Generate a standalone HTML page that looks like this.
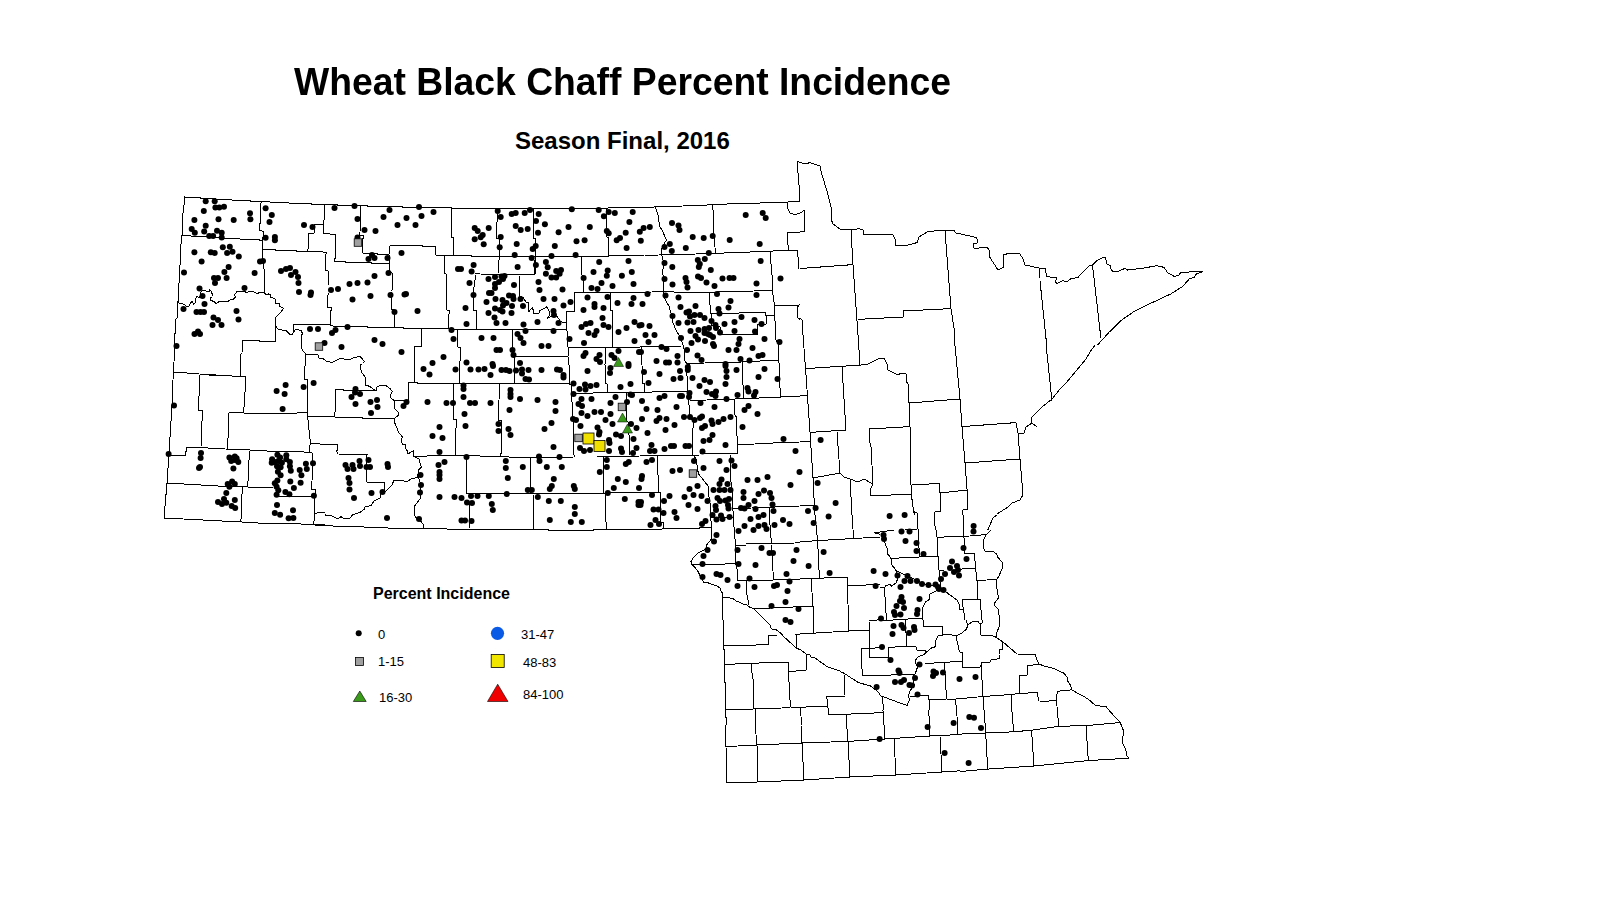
<!DOCTYPE html>
<html><head><meta charset="utf-8">
<style>
html,body{margin:0;padding:0;background:#fff;width:1612px;height:900px;overflow:hidden}
body{position:relative;font-family:"Liberation Sans",sans-serif}
.t{position:absolute;font-weight:bold;color:#000;white-space:nowrap;line-height:1}
.l{position:absolute;color:#000;white-space:nowrap;line-height:1;font-size:13px}
svg{position:absolute;left:0;top:0}
</style></head><body>
<div class="t" id="title" style="left:294px;top:63px;font-size:37.3px;transform:scaleY(1.035);transform-origin:0 0">Wheat Black Chaff Percent Incidence</div>
<div class="t" id="sub" style="left:515px;top:129px;font-size:24px">Season Final, 2016</div>
<div class="t" id="leg" style="left:373px;top:586px;font-size:16px">Percent Incidence</div>
<div class="l" id="l0" style="left:378px;top:628px">0</div>
<div class="l" id="l1" style="left:378px;top:655px">1-15</div>
<div class="l" id="l2" style="left:379px;top:691px">16-30</div>
<div class="l" id="l3" style="left:521px;top:628px">31-47</div>
<div class="l" id="l4" style="left:523px;top:656px">48-83</div>
<div class="l" id="l5" style="left:523px;top:688px">84-100</div>
<svg width="1612" height="900" viewBox="0 0 1612 900">
<defs><mask id="m0" maskUnits="userSpaceOnUse" x="0" y="0" width="1612" height="900"><rect x="160" y="185" width="320" height="180" fill="#fff"/><rect x="440" y="200" width="100" height="60" fill="#000"/><rect x="175" y="190" width="120" height="70" fill="#000"/><rect x="170" y="285" width="160" height="90" fill="#000"/><rect x="295" y="195" width="160" height="90" fill="#000"/><rect x="330" y="280" width="160" height="90" fill="#000"/></mask><mask id="m1" maskUnits="userSpaceOnUse" x="0" y="0" width="1612" height="900"><rect x="440" y="200" width="100" height="60" fill="#fff"/></mask><mask id="m2" maskUnits="userSpaceOnUse" x="0" y="0" width="1612" height="900"><rect x="175" y="190" width="120" height="70" fill="#fff"/></mask><mask id="m3" maskUnits="userSpaceOnUse" x="0" y="0" width="1612" height="900"><rect x="170" y="285" width="160" height="90" fill="#fff"/></mask><mask id="m4" maskUnits="userSpaceOnUse" x="0" y="0" width="1612" height="900"><rect x="295" y="195" width="160" height="90" fill="#fff"/><rect x="440" y="200" width="100" height="60" fill="#000"/></mask><mask id="m5" maskUnits="userSpaceOnUse" x="0" y="0" width="1612" height="900"><rect x="330" y="280" width="160" height="90" fill="#fff"/><rect x="295" y="195" width="160" height="90" fill="#000"/></mask><mask id="m6" maskUnits="userSpaceOnUse" x="0" y="0" width="1612" height="900"><rect x="480" y="185" width="320" height="180" fill="#fff"/><rect x="440" y="200" width="100" height="60" fill="#000"/><rect x="330" y="280" width="160" height="90" fill="#000"/><rect x="640" y="185" width="160" height="90" fill="#000"/><rect x="480" y="275" width="160" height="90" fill="#000"/><rect x="535" y="195" width="110" height="85" fill="#000"/><rect x="640" y="275" width="160" height="90" fill="#000"/></mask><mask id="m7" maskUnits="userSpaceOnUse" x="0" y="0" width="1612" height="900"><rect x="640" y="185" width="160" height="90" fill="#fff"/><rect x="535" y="195" width="110" height="85" fill="#000"/></mask><mask id="m8" maskUnits="userSpaceOnUse" x="0" y="0" width="1612" height="900"><rect x="480" y="275" width="160" height="90" fill="#fff"/><rect x="330" y="280" width="160" height="90" fill="#000"/><rect x="535" y="195" width="110" height="85" fill="#000"/></mask><mask id="m9" maskUnits="userSpaceOnUse" x="0" y="0" width="1612" height="900"><rect x="535" y="195" width="110" height="85" fill="#fff"/><rect x="440" y="200" width="100" height="60" fill="#000"/></mask><mask id="m10" maskUnits="userSpaceOnUse" x="0" y="0" width="1612" height="900"><rect x="640" y="275" width="160" height="90" fill="#fff"/><rect x="535" y="195" width="110" height="85" fill="#000"/></mask><mask id="m11" maskUnits="userSpaceOnUse" x="0" y="0" width="1612" height="900"><rect x="790" y="155" width="320" height="180" fill="#fff"/><rect x="480" y="185" width="320" height="180" fill="#000"/><rect x="640" y="185" width="160" height="90" fill="#000"/><rect x="640" y="275" width="160" height="90" fill="#000"/><rect x="1040" y="245" width="180" height="100" fill="#000"/></mask><mask id="m12" maskUnits="userSpaceOnUse" x="0" y="0" width="1612" height="900"><rect x="1040" y="245" width="180" height="100" fill="#fff"/></mask><mask id="m13" maskUnits="userSpaceOnUse" x="0" y="0" width="1612" height="900"><rect x="160" y="365" width="320" height="180" fill="#fff"/><rect x="170" y="285" width="160" height="90" fill="#000"/><rect x="330" y="280" width="160" height="90" fill="#000"/><rect x="225" y="445" width="100" height="80" fill="#000"/><rect x="320" y="365" width="160" height="90" fill="#000"/><rect x="320" y="455" width="160" height="90" fill="#000"/></mask><mask id="m14" maskUnits="userSpaceOnUse" x="0" y="0" width="1612" height="900"><rect x="225" y="445" width="100" height="80" fill="#fff"/></mask><mask id="m15" maskUnits="userSpaceOnUse" x="0" y="0" width="1612" height="900"><rect x="320" y="365" width="160" height="90" fill="#fff"/><rect x="170" y="285" width="160" height="90" fill="#000"/><rect x="330" y="280" width="160" height="90" fill="#000"/><rect x="225" y="445" width="100" height="80" fill="#000"/></mask><mask id="m16" maskUnits="userSpaceOnUse" x="0" y="0" width="1612" height="900"><rect x="320" y="455" width="160" height="90" fill="#fff"/><rect x="225" y="445" width="100" height="80" fill="#000"/></mask><mask id="m17" maskUnits="userSpaceOnUse" x="0" y="0" width="1612" height="900"><rect x="480" y="365" width="160" height="90" fill="#fff"/><rect x="330" y="280" width="160" height="90" fill="#000"/></mask><mask id="m18" maskUnits="userSpaceOnUse" x="0" y="0" width="1612" height="900"><rect x="640" y="365" width="160" height="90" fill="#fff"/></mask><mask id="m19" maskUnits="userSpaceOnUse" x="0" y="0" width="1612" height="900"><rect x="480" y="455" width="160" height="90" fill="#fff"/></mask><mask id="m20" maskUnits="userSpaceOnUse" x="0" y="0" width="1612" height="900"><rect x="640" y="455" width="160" height="90" fill="#fff"/></mask><mask id="m21" maskUnits="userSpaceOnUse" x="0" y="0" width="1612" height="900"><rect x="800" y="335" width="320" height="180" fill="#fff"/><rect x="1040" y="245" width="180" height="100" fill="#000"/></mask><mask id="m22" maskUnits="userSpaceOnUse" x="0" y="0" width="1612" height="900"><rect x="640" y="545" width="160" height="90" fill="#fff"/></mask><mask id="m23" maskUnits="userSpaceOnUse" x="0" y="0" width="1612" height="900"><rect x="800" y="515" width="320" height="180" fill="#fff"/><rect x="880" y="530" width="160" height="90" fill="#000"/><rect x="880" y="620" width="160" height="90" fill="#000"/><rect x="680" y="635" width="160" height="90" fill="#000"/><rect x="960" y="640" width="180" height="140" fill="#000"/></mask><mask id="m24" maskUnits="userSpaceOnUse" x="0" y="0" width="1612" height="900"><rect x="880" y="530" width="160" height="90" fill="#fff"/></mask><mask id="m25" maskUnits="userSpaceOnUse" x="0" y="0" width="1612" height="900"><rect x="880" y="620" width="160" height="90" fill="#fff"/></mask><mask id="m26" maskUnits="userSpaceOnUse" x="0" y="0" width="1612" height="900"><rect x="700" y="695" width="320" height="180" fill="#fff"/><rect x="880" y="620" width="160" height="90" fill="#000"/><rect x="680" y="635" width="160" height="90" fill="#000"/><rect x="960" y="640" width="180" height="140" fill="#000"/></mask><mask id="m27" maskUnits="userSpaceOnUse" x="0" y="0" width="1612" height="900"><rect x="680" y="635" width="160" height="90" fill="#fff"/></mask><mask id="m28" maskUnits="userSpaceOnUse" x="0" y="0" width="1612" height="900"><rect x="960" y="640" width="180" height="140" fill="#fff"/><rect x="880" y="620" width="160" height="90" fill="#000"/></mask></defs>
<g fill="none" stroke="#000" stroke-width="1" stroke-linejoin="round" shape-rendering="crispEdges">
<path mask="url(#m0)" d="M184.4,196.6 261,202 324,204.6 360,205.6 451,208 480,208.6M184.4,196.6 181.6,236 178,301 173.6,365M181.6,236 262,240M261,202 259.6,227 262,231 263,249 264,269 265,293M263,249.4 326,252.6M326,252.6 325.6,270 328,271 327,307 331,309 330.6,325M308,250 309,233 315,233 315,225 323,224M324,204.6 323,233 335,235 335,261 389,263M360,205.6 360.6,236 362,241 362.4,253 389,255M390,246 436,246 436,255 480,256M389,255 390,246M390,246 389,273 392,289 391.6,305 394.4,313 394.4,327M451,208 453.6,237 453.6,255M444,256 447,273 448,311 449,328M480,273 475,274 476,311 477,329M294,324 331,325 394.4,327.4 449,328 480,329M421,329 420,346 415,346.6 414,365M458,329 460,347 460,365M178,301 179,303 184,305 191,305 193,301 197,301 198,297 202,293 206,290 210,291 211,296 213,300 218,303 226,301 232,300 236,297 236,293 240,291 248,291 256,292 262,294 270,295 276,301 280,305 282,309 278,315 276,321 276,327 282,331 292,334 298,332 302,335 301,343 304,351 312,355 320,357 332,362 344,359 358,357 364,361 360,365M275.6,327 275.6,341 242,341 241,365M294,324 293.6,329M305,354 305.6,365"/>
<path mask="url(#m1)" d="M440,207.3 451,207.3 451.3,208.3 540,208.3M451.3,208.3 451.7,237.3 453.3,237.7 453.3,255.3M440,255.3 471.3,255.3 471.7,256.3 540,256.3M444.3,255.7 444.3,260M497.3,208.7 497.3,222 496.5,222.7 496.5,238.3 499.3,238.7 499.3,260M533.3,208.3 533.3,238.3 535.3,238.7 535.3,260"/>
<path mask="url(#m2)" d="M184.3,196.2 184.3,197.4 199.9,197.4 200.3,198.2 215,198.2 215.4,199.2 231.8,199.3 232.5,200.5 250,200.5 250.4,201.7 261.3,201.7 269.9,201.7 270.3,202.4 288.9,202.4 289.3,203.6 295,203.6M184.3,196.6 184.3,204.8 183.2,205.6 182.8,221.1 182.4,221.9 182.4,235.1 181.2,236.7 180.8,252.2 180.1,253.4 180.1,260M182.4,235.1 190.6,235.1 191.3,236.5 207.7,236.5 224,238.2 239.5,238.2 240.3,239.4 259,239.4 259.8,240.5 262.1,240.5M261.3,201.7 260.5,205.6 260.1,223.4 259.4,224.2 259.4,230.4 263.3,231.2 262.9,239.8 262.5,260M262.5,249.5 275.3,249.5 276.1,250.7 295,250.7"/>
<path mask="url(#m3)" d="M178.5,285 178,301 177.5,302 177,318 176,319 175.5,333 174.5,334 174,362 173.5,363 173.5,375M178,301.5 179.5,303.5 182,303.5 184.5,304.5 186.5,306.5 189,306 190.5,302.5 192.5,301.5 193.5,305 195,303 195.5,298.5 197,296.5 199,297.5 200,296 201,292 203,290.5 206,291 209,291.5 209.5,289.5 211.5,291.5 211,293 213,294.5 212.5,296.5 210.5,298 211,300.5 214,301.5 216,303.5 218.5,302 222,301 225,302 228.5,301 231,299.5 233,299.5 235.5,297 234.5,295 237,291.5 240,291 245,291 246,292.5 250,291.5 254,292 257,293.5 260,292.5 264,293 266,294.5 268.5,294 270.5,295 270,297 273,298 275,299 276,303.5 279,303.5 280,306.5 283.5,308.5 282,310.5 280,313 277,316 275.5,317.5 275.5,326 278,329 282,330 286.5,331 289.5,334 292.5,334 295,330 298,329.5 301.5,331 302.5,334 301,336 302,341 301.5,348 303.5,351.5 306,354 314,354 318,355 319,358 323,358.5 326,361 330,362M264.5,285 264.5,292.5M275.5,317.5 275.5,341.5 260,341.5 259.5,340.5 242.5,340.5 242,353 241,354 240.5,375M294,324.5 330,325M294,324.5 293.5,333M306,354 305,366 304.5,375M173.5,372.5 184,372.8 199,374 216,374.5M329,293 327.5,296 327.5,307.5 330,307.5"/>
<path mask="url(#m4)" d="M295,203.5 311.5,203.5 312,204.5 337.5,204.5 338,205.5 367.5,205.5 368,206.5 402.5,206.5 403,207.5 450.5,207.5 451,208.5 455,208.5M324.5,204.5 324,221 323,222 323.5,233.5 335.5,234.5 335.5,258 334.5,259 334.5,261.5 345,261.5 345.5,262.5 371.5,262.5 372,263.5 389,263.5M323,224.2 314.5,224.5 314.5,233 308.5,233.5 308,250 307,251M295,250.5 298,251.5 307,251.5 323,252 326.5,252.5 326,254 325.5,270 328,270.5 328.5,285M360.5,205.5 360,233 359,235 363.5,235.5 363.5,238.5 362,239 362.5,253 377.5,253.5 378,254.5 389,254.5M389,254.5 389.5,247 390.5,245.5 422.5,245.5 423,246.5 435.5,246.5 435.5,255 453.5,255.5M389,254.5 389,271 392,272.5 392.5,285M451,208.5 451.5,237 453,237.5 453.5,255.5M444.5,255.5 444.5,273 446,274 446.5,285"/>
<path mask="url(#m5)" d="M330,307.5 331.5,307.5 331.5,310.5 330.5,311 330.5,325 334,326.5 367.5,326.5 368,327.5 394,327.5 403.5,327.5 404,328.5 448,328.5 457,329.5 490,329.5M392.5,280 392.5,289.5 391,291 391.5,309.5 394,310 394.5,327.5M446.5,280 446.5,310 449.5,310.5 449.5,313.5 448.5,314.5 448.5,328.5M474,280 474.5,286.5 473.5,288 473.5,310.5 476.5,311 476.5,329.5M421.5,328.5 421.5,346.5 414.5,346.5 414.5,370M457,329.5 457.5,347 460.5,347.5 460.5,360.5 459.5,361.5 459.5,370M330,363 334,361.5 337,360 340,358.5 343,358.5 346,360 351,359 354,357.5 360,356.5 362,358.5 364.5,361.5 362.5,363.5 360,365.5 360.5,370"/>
<path mask="url(#m6)" d="M480,208.6 608,207.6 640,207.4M606.4,208 606,237 608,238 608.6,255.4M533,208.6 534.4,239 535,274M496.4,208.6 497.6,223 498.4,251 499,273M480,256 499,256M480,274 519,274.6 535,274M535,256 608,255.4 661,255M581,256.6 582,273 583.6,292M575,293 663,292 710,293 772,290M519,274.6 520,297 525,300 528,305 530,311 534,314 540,311 544,308 548,310 549,317 552,315 557,319 560,323 566,323M480,329 566,328.6M512,329.4 513,349 514,365M514,356.6 568,356.6M575,293 574,311 567,311.4 566,323 568,347 569,365M610.4,293 612,311 612,347M568,347 612,347 684,346M605.6,348 605,365M641,347 643,365M663.6,255 663,261 662,269 664,277 663,285 664,293 666,299 670,313 673,323 678,333 682,341 684,349 685,357 686,365M772,290 775,315 778,365M774,306 800,305M710,293 712,314 764,312 766,323 757,325 757,334 720,335 719,329 712,325 712,314M766,315 775,315M686,363 778,360.6M798,250 799,269M770,252 772,290M798,305 797,315 800,319M716,253 770,252 798,250"/>
<path mask="url(#m7)" d="M640,207.5 697,205.5 727,204 753,203.2 777,202.5 799,201.5M799,185 799,201.5M787,203 788,209 790,213 794,214.5 800,213.5M655.5,207.5 658,215 659.5,226 662,230 666.5,240 662.5,246 661,253 662.5,257 663.5,263 662.5,275M712.5,205.5 713.5,214 714,235 715.5,253.5M640,255.5 696,254 724,253 763,251.5 783,250.5 797.5,250.5M770,251.8 772,275M787,232.5 800,232.5M787,232.5 788.5,250.5M797.5,250.5 799,269"/>
<path mask="url(#m8)" d="M519,275 519.5,296 523,297.5 526,302 528.5,302 529,311.5 531,309 532.5,307.5 534,313.5 539,313 540,310.5 544,308.5 546.5,307 548,309 550,313 549,316 547.5,318.5 552,316 557,316 560,321 561.5,322 566,322M480,329.5 512,329.5 566,329.5M512,329.5 512.5,356 514.5,356.5 514.5,365M514.5,356.5 568,356.5 569,365M566,322 566.5,311.5 574.5,311.5 574.5,292.5 583.5,292.5 610,292.5 640,292.5M583.5,275 583.5,292.5M566.5,311.5 566.5,329.5 567.5,332 567.5,347 612.5,347 640,347M610,292.5 610.5,310 612.5,310.5 612.5,347M568,347 568.5,356.5M605.5,347.5 605,365"/>
<path mask="url(#m9)" d="M535,208.2 607.7,208.2 608.2,207.3 645,207.3M606.3,208.7 606.8,237 608.7,237.5 608.7,256.4 610.1,255.4 645,255M535,256.4 608.7,256.4M535.5,238 535.5,274.3M581.3,256.9 581.3,274.3 583.2,275.7"/>
<path mask="url(#m10)" d="M663.5,275 664,281 663,285 663.5,291 664,297 667,303 669,306 671,313 672.5,318 673,323 676,330 680,337 683,345 684,349 684.5,354 685,361 687,364 690,365M640,292.5 663.5,291.5 694,293 710,292.8 722,291.5 754,291 772,290.5M772.5,275 773,295 774.5,306 775,321 776,340 778,343 778.5,360 779.5,365M774.5,305.5 800,305M709.5,293 710,305 711,314 711.5,325 720,326.5 720,329.5 719,331 720,335 757.5,334.5 758,324.5 766.5,324 766,315.5 774,315.5M711,314 728,313.5 750,312.5 765.5,312.5 766,315.5M640,346.5 682.5,346M641,347 642,365M686,363.5 742,362 778,360M742.5,362.5 742,365M800,304 797,308 797,317 800,319.5"/>
<path mask="url(#m11)" d="M797.6,161.4 799,201 798,202 790,202M797.6,161.4 805,164 810,162.6 814,164 820,166 822,175 827,191 832,211 831,219 833,224 840,229 851,230 859,228.6 863,230 864,234.6 871,235 876,234.6 893,235 895,239 896,246 908,245 917,242.6 919,237 927,232 937,230.6 954,230.6 956,233 976,237.4 978,240 977,243 973,244 974,248 979,248 987,247.4 990,251 989,256 998,270 1004,267 1003,255 1010,253 1020,254 1023,259 1025,265 1039,268 1045,269 1047,275 1057,277 1056,282 1066,281 1078,277.4 1084,271 1092,264 1103,258 1106,260 1108,266 1110,267M790,213 796,214 802,212 804,210 805,231 790,232M790,250 798,250.6 799,268.6 853,264.6M851,230 853,264.6 858,335M858,319.4 903,317 903,311 951,308.6M945,231 951,308.6 955,335M1039,268 1046,335M1092,264 1101,335M790,305 799,305 797,309 796,315 802,320 803,335M1106,333 1110,329"/>
<path mask="url(#m12)" d="M1040,268.4 1045,268.4 1046.7,276.3 1051.2,277.4 1056.7,277.4 1055.6,281.8 1056.7,283.5 1062.3,280.7 1066.8,281.8 1070.1,279.1 1078,277.4 1084.7,270.1 1089.1,265.7 1092.5,265.1 1096.9,260.6 1102.5,257.8 1105.3,257.3 1107,264 1110.9,265.7 1110.3,268.4 1113.1,271.8 1117,271.8 1124.9,268.4 1127.7,270.1 1136,269 1145,267.9 1156.1,265.7 1163.9,267.3 1167.8,272.9 1174,276.3 1178.5,275.7 1180.7,272.4 1193,271.8 1203,271.6M1203,271.6 1196.3,274 1194.1,277.4 1189.6,278.5 1182.9,286.3 1174,291.9 1170.6,294.1 1162.8,297.5 1156.1,300.8 1142.7,307 1134.9,310.9 1120.4,320.9 1109.2,332.1 1097.5,345M1092.5,265.1 1100.9,338.2M1040,280.7 1046.7,345"/>
<path mask="url(#m13)" d="M173.6,365 172,405 169,454 167,483 164,518M173.6,372.6 200,374.6 246,376.6M241,365 240.4,376M200,374.6 198.4,410 202.4,411 201,447M246,376.6 243.6,413 280,414 308,412.4M229,412.6 243.6,413M229,412.6 227.6,449M305,365 304,379 308,380 307.6,416 334,417 395,418M309.6,443 337,444.6 337,454 368,454.6 366,482 384,483 385,492M307.6,416 310.4,443 310,453 313,453 312,489 315,497 314,525M167,455 185,456 187,447 228,449 249,451 288,452 313,453M249,451 247,486 242,487.4 241,522M167,483 242,487.4 278,488 280,497 315,497M164,518 241,522 314,525 424,528 480,529M359,365 365,377 366,385 374,390 380,386 387,386 392,390 391,397 395,407 398,413 395,418 396,423 400,433 402,437 400,441 403,444 405,449 413,453 415,457 420,461 421,467 418,475 420,483 418,495 415,505 416,521 424,528M418,477 411,479 406,482 399,480 392,483 386,491 380,497 374,503 366,507 360,513 352,517 344,518 336,519 326,515 316,514 315,514M335,389.4 374,390M335,389.4 334,417M395,401 408,400.6 408,382.6 415,382 415,365M408,382.6 454,383.4 480,383M460,365 459.6,383M454,383.4 456,455M415,456 480,456.6M467,457 467,493 480,493M471,501 469,529"/>
<path mask="url(#m14)" d="M225,449 241.4,449.4 262.3,450.8 284.1,451.7 309.4,452.1 313,453.4 311.7,489.4 315.7,489.9 314.8,496.6 293.4,497 279.2,496.4M248.1,487.2 273,487.7M249.9,450.8 249,460.1 248.1,480.6 247.2,486.3 225,486.8M242.3,486.8 241,519.7 240.6,521.9M309.4,445 309.4,452.1M227.7,445 227.7,449M314.8,497 313.9,525M225,521.4 240.6,521.9 261,523.2 282.8,523.7 306.8,524.1 325,524.6M314.8,514.3 317.4,512.6 325,512.6"/>
<path mask="url(#m15)" d="M359.5,365 360,367 362,373 365.5,377.5 365.5,385 370,386.5 373,389 375,390.5 376.5,390 377,387 380,385.5 386,385.5 390,388.5 392.5,391.5 390.5,394.5 391,398 394,400.5 394,408 398,412 398,415.5 395,418 394,421 396.5,427 399,433 402.5,437 401,441 402.5,444 405.5,445 405,448 407.5,451 408,454 411,452 414,450.5 413.5,455M335.5,389 343,389 343.5,390.5 373,390.5 374.5,390M335.5,389 335.5,411.5 334.5,412.5 334,417 320,416.5M334,417 362,417.5 362.5,418.5 394,418.5M394,400.5 408,400.5 408.5,382.5 417,382.5 418,383.5 459,383.5 480,383.5M414.5,365 414.5,382.5M459.5,365 459.5,383.5M453.5,383.5 453.5,419.5 456.5,420 456.5,427.5 455.5,428.5 455.5,455M320,444.5 337.5,444.5 337.5,450 336.5,451 338,454 368,454.5"/>
<path mask="url(#m16)" d="M367,455 366.5,482 384.5,482 385,492M320,514 324,512.5 326,516 331,515.5 338,519 341,516.5 344,519 350,518 353,514.5 360,512.5 364,509.5 365,507 371,505.5 374,501 380,498 380,494.5 385,492 392,485 394,480 399,480.5 404,481 408,481 412,478.5 417.5,477.5 418.5,470 421.5,467 419.5,462 420,459.5 414,456.5 413.5,455M414,456 427,456 455,455.5 480,456M418.5,477 420,482 420,499 414.5,506 415,516 417,519 421.5,522 423.5,525 423.5,528M467,458 466.5,470 466.5,493.5 480,493.5M469.5,504 469,529M320,525.5 333,526 364,527 400,528.5 447,529 480,529.5"/>
<path mask="url(#m17)" d="M480,384 514,383.8 569.5,384 571,385 571.5,393.5 573,419 573.5,423 574,455M514.5,365 514,384M569.5,365 569.5,384M499.5,384.5 499,400 498.2,400.5 498.5,420.5 501.5,420.5 501.5,452 500.5,455M571.5,393.5 593,393.3 593,392 607.5,392 640,392M605.5,365 605.5,383.5 607,383.5 607.5,392M626,393 626.5,404 627,421 628,422 629,435 629,455"/>
<path mask="url(#m18)" d="M642,365 642.5,383 644.5,384 644.5,392M640,392.2 664,391.8 687,391.5M687,365 686.5,374 688,380 687.5,390 689,398 688.5,403 690,408 689.5,415 694,423 692.5,430 692,437 692.5,447 693,455M690,400.5 707,400 735,399 764,397.8 781,397 800,396.5M742,365 743,385 743.5,398M779.5,365 780,388 781,397M734,399.5 735,415 736.5,417 737,436 738,444 737.5,453.5 730,453.5 700,454M738,444.5 755,444 782,442.5 800,442"/>
<path mask="url(#m19)" d="M480,457 500,456.8 530,457.5 574,457 597,457 640,456M500.5,455 500.5,456.8M574.5,455 574.5,457M530.5,457.5 531,493M480,493.3 533,493.5 605,493 640,492.5M603.5,456.5 604,493M533,493.5 533.5,529.5M605.5,493.5 605.5,521.5 606.5,522.5 606.5,529.5M480,529.5 533.5,529.5 548,529.5 548.5,530.5 593.5,530.5 594,529.5 640,529.5"/>
<path mask="url(#m20)" d="M640,456 664,455.5 699,455.5M657.5,456.5 658.5,492M640,492.2 660.5,492.3 661,522 663.5,522.5 663.5,528.5 699,528.5 699.5,527 712,527M640,529.5 661,529.5 663.5,528.5M694,456 696.5,460 697.5,470 699,474.5 708.5,486.5 709,497 711,509 710.5,518 712,527 711.5,539 706.5,545M730.5,455 730.5,479 732,488 732.5,505 733.5,517 734,527 735.5,545M711,517.5 734,517M733.5,508.5 770,507.5 780,506.5 800,506M769.5,507.5 770,525 771.5,544M746,544 771.5,543.5 795,543 800,542"/>
<path mask="url(#m21)" d="M803,335 806,375 810,432 813,478 814.4,505 815,515M806,368.6 861,365 864,364 868,364 880,358 884,358 887,364 888,370 898,375 901,373 906,374 906,381 908,384 909,403 910,427 911,449 910,455 911,485 911.4,495 913.8,512.2 917.4,513 918,515M858,335 860,365M842,367 846,430 810,432.4M800,396 807,395M800,442 810,441M837,432 840,473 813,478M840,473 844,477 850,479 858,482 864,479 871,483 873,483 870,491 871,496 911,494M940,493 967,490M850,479 852,515M869,429 910,426.6M869,429 870,443 871,447 873,483M909,403 960,399 962,427 965,463 967,489 968,509 963,510 962.4,515M954,335 960,399M962,426.6 1016,422.6 1018,433 1024,433 1026,427 1032,423 1037,427M1018,433 1020,459 1023,495 1020,500 1012,503 1008,507 997,514M965,463 1020,459M912,485 939,483.4 940,493 941,511 935,512 934,515M1045,335 1052,401M1107,335 1100,339 1092,349 1086,359 1076,371 1066,383 1060,389 1052,399 1042,407 1031,418 1032,423M800,506 814,505M914,511 915,515"/>
<path mask="url(#m22)" d="M706.5,545 706.5,549 698.5,552.5 693,558 691,561.5 691.5,564 694.5,567 697.5,570.5 700,575.5 704,582.5 708.5,583 717,586 720,588 721.5,592 723,594 722.5,597 723,620 723.5,635M692,564 725,564 735.5,563M735.5,545 735.5,563 737,569 737.5,581 759,580.5 773.5,580 784,579.5 800,579M735.5,545.5 746,545.5M771.5,545 772.5,562 773.5,580M746.5,581.5 746,590 748,600 748.5,605.5M723,597 733,598.5 736,601 740,602.5 743,604 747,605 750,607.5 753.5,608.5 758,613 763,618 770,625 771.5,629 776,629.5 779,632 783,635M753.5,608.5 770,608 793,607 800,606.5M795,634.5 800,634"/>
<path mask="url(#m23)" d="M815,515 817.6,540.6 819.4,578M800,542 817.6,540.6 880,537M852,515 853.6,538M874,532.6 917,529M874,532.6 879,534 883,537 886,543 888,552 892,559M917,515 918,529 920,557M934,515 938,557 940,571M892,558.6 938,556M936,538 964,536 986,534.6M963,515 964.4,536 967,553M986,534.6 989,527 993,518 997,515M800,579 811,578.6 847,577 848,585.4 884,584.6M811,578.6 813,606 814,633M800,607 813,606M847,577 849,631M800,634 849,631 869,630M884,584.6 886,619 869,621 870,658 889,657.4M886,619 923,618M905,620 907,646M861,649 889,647M861,649 862.4,676M800,650.6 805.4,654 816,659.4 826.6,666 844,673.2 850.6,677.6 858.6,682.6 870.6,686 877.4,691.2 881.4,696M800,655 806,655 806,670 800,670M844,675 845,695M862.4,676 916,674M1002,638 1008,645 1016,651 1018,654 1034,655 1036,661 1040,664 1052,667 1066,675 1070,683 1072,689 1080,695M1028,665 1027,675 1019,676 1020,695M1005,694 1038,693M1056,691 1070,690"/>
<path mask="url(#m24)" d="M880,531.2 894,530.8M918,530 919.5,556.5M884,541 887,548 887,553 891.5,559 892,565 896.5,571 904,574.5 908,576 914,579 920,582 928,585 936,586 940,590 941,591 946,592 950,595 957,600 959,604 959,609 963.5,609.5 965,620M891.5,558.5 907,557.5 938,556.2M936.5,530 937,537 938,556.2 939,570 940,582 940.5,590M937,537.2 964,536.5 986.5,534.5 991,530M963.5,530 965,553.5 974.5,553.5 975.5,568 977,580.5 977.5,599 980,599 982,620M940,571 944,570.5M960,569.2 975.5,568M986.5,534.5 984,539 983.5,548 985,551 993,551.5 996.5,554 998,557.5 1002.5,562.5 1003,567.5 1001,571 999,576 996.5,580 996,585 997.5,591 998.5,598 994.5,603 995,606 998,609 999,615 1000,620M977,580.5 996.5,579.5M880,588 884.5,587.5 886,585.5 890,584.5 891.5,586 896,583 898,578 896.5,571M884.5,588 885.5,605 886.5,620M940,590 936,591 930,594 929,596 930,599 925.5,602 922,609 923,620M962,600 980,599M962,600 963.5,610M893,619.5 923,618.5"/>
<path mask="url(#m25)" d="M880,620.5 893,620.5M905.5,620 906.5,646M923.5,620 923.5,627 942.5,626.5 942.5,635M942.5,635 938,636 935.5,641 936,646.5 931.5,648 926.5,652 924,654.5 918,657 915.5,660 916,664 917.5,667 915.5,673 913.5,676 913,681 914.5,685 910,691 908.5,695 909.5,700 907,705.5 900,703 892,700 880,695.5M888.5,647.5 906.5,646.2 916,646.5 916.5,650 925.5,650.5 926,653M888.5,647.5 889,657 880,657.5M880,675.5 914,674M942.5,635 950,634.5 956,636 962,633 966.5,629 968,624.5 974,621 978,621.5 980,624 982,623 982.5,620M966,620 967.5,624M956,636 959.5,652 962.5,652.5 963,668 980.5,667 981.5,662.5 990,662 991,660 999.5,658.5 999,654.5 999.5,649 1003,649 1002.5,641.5 996.5,637.5M980,624 980.5,635 986,635.5 991,635 996.5,637.5M999,620 999,627 997,632 996.5,637.5M996.5,637.5 1003,642 1010,648 1017,654 1035,654.5 1037,660 1039,664 1040,664.5M925,663.5 944,662.5 962,661M944,662.5 945.5,680 946.5,699M981,663 982,680 983,696 983.5,710M910,696.5 928.5,695.5 929,700 929.5,710M929,700 946.5,699 956,699 983,696.5 1011,694.5 1020,693.5 1037,692.5 1039,701M955.5,699 956.5,710M1011,694.5 1011.5,710M1020,693.5 1019,676 1027.5,675 1027.5,665.5 1039,664.5M882.5,697 883.5,710"/>
<path mask="url(#m26)" d="M725,695 725,717 726,747 727,783M725,709.4 753.6,708.6 800,707.4 828,706M753,695 753.6,708.6 757,745 758,782M790,695 790.4,707M800,707.4 802,743 804,780M826,697 845,696M826,697 828,715 883,712.6M880,695 907,706 910,703 909,695M882,697 885,739M846,715 848,742 850,777M928,695 930,736M928,700 956,698.6 984,696 1006,695M956,698.6 958,734M984,696 985,733 987,769M1011,695 1013,732 1020,732M726,746.6 757,745 802,743 848,741.4 885,739 930,736 958,734.6 985,733 1013,732M894,739 896,775M940,736.6 942,772M727,782.4 758,782 804,780 850,777 896,775 942,772 987,769 1020,767"/>
<path mask="url(#m27)" d="M723.5,635 723.5,649.5 724.5,650 724.5,682 725.5,683 725.5,717 726.5,718 726.5,725M723.5,645 756,645 768.5,644.5 769,635 777,635M782,635 793,645 796,648 801,650 806,654 810,655 811,657 815,658 822,663 827,666.5 832,668.5 840,671M796,635 796.5,648M724.5,664.5 735,664 764,662.8 788,662.2 788.5,671.5 796,671 806.5,670 806.5,655M751.5,664 752,672.5 753.5,682 753.5,708.5 752,709.5 725.5,709.5M753.5,708.5 782,708 790.5,707 806,707 827,706.2M788.5,671.5 789.5,692 790.5,707M755.5,709 755.5,725M800.5,707.5 801.5,725M826.5,696.5 840,696.2M826.5,696.5 827.5,701 828.5,715 833,714.5 840,714.5"/>
<path mask="url(#m28)" d="M1002,640 1002.8,647.8 998.9,649.3 998.9,657.9 989.6,659.4 985.7,663.3 981.8,663.3 981,667.2 963.1,668 962.3,652.4 960,652.4M1002,640 1011.3,649.3 1018.3,654 1034.7,654.8 1037.8,662.6 1042.5,665.7 1054.9,668.8 1064.2,673.4 1067.3,677.3 1067.3,680.4 1070.5,685.1 1072,689.8 1078.2,693.7 1084.5,696.8 1089.1,699.9 1095.3,705.3 1106.2,706.9 1115.6,717.8 1120.2,722.5 1123.3,730.2 1122.6,743.5 1125.7,748.9 1126.5,755.1 1128.8,758.2M981.8,663.3 983.3,696 985.7,733.3 987.7,769.1M960,698.3 983.3,696 1019.9,693.7 1037.8,692.9 1039.3,701.4 1056.5,700.7 1057.2,691.3 1072,689.8M1019.1,693.7 1019.1,675.8 1027.7,675.5 1028.1,665.7 1039.3,665.2M1056.5,700.7 1058.8,726.3M1010.6,695.2 1013.7,731.8M960,734.1 1013.7,731.8 1031.6,730.2 1058.8,726.3 1086,725.6 1120.2,722.5M1031.6,730.2 1033.9,766M1086,725.6 1088.3,760.6M960,771.5 987.7,769.1 1033.9,766 1088.3,760.6 1128.8,758.2"/>
</g>
<g fill="#000"><circle cx="474.7" cy="228" r="3"/><circle cx="477.7" cy="231" r="3"/><circle cx="482.7" cy="235" r="3"/><circle cx="480.7" cy="237.3" r="3"/><circle cx="474.7" cy="239.3" r="3"/><circle cx="483.7" cy="244.3" r="3"/><circle cx="488.7" cy="228" r="3"/><circle cx="497.7" cy="211" r="3"/><circle cx="500.7" cy="217" r="3"/><circle cx="511.7" cy="214" r="3"/><circle cx="515.7" cy="213" r="3"/><circle cx="524.7" cy="213" r="3"/><circle cx="530" cy="210" r="3"/><circle cx="538.7" cy="214" r="3"/><circle cx="515.7" cy="226" r="3"/><circle cx="520.7" cy="230" r="3"/><circle cx="527.7" cy="229" r="3"/><circle cx="500.7" cy="237" r="3"/><circle cx="516.7" cy="244" r="3"/><circle cx="499.7" cy="247.3" r="3"/><circle cx="536" cy="221" r="3"/><circle cx="538" cy="232.7" r="3"/><circle cx="535.7" cy="246" r="3"/><circle cx="532.7" cy="249" r="3"/><circle cx="514.7" cy="255" r="3"/><circle cx="531.7" cy="258" r="3"/><circle cx="205.7" cy="201.3" r="3"/><circle cx="214.7" cy="201.3" r="3"/><circle cx="215.4" cy="207.5" r="3"/><circle cx="219.3" cy="207.5" r="3"/><circle cx="224" cy="206.7" r="3"/><circle cx="203.8" cy="211" r="3"/><circle cx="194.4" cy="219.9" r="3"/><circle cx="218.5" cy="219.2" r="3"/><circle cx="233.7" cy="219.9" r="3"/><circle cx="250" cy="213.3" r="3"/><circle cx="250.4" cy="219.2" r="3"/><circle cx="265.6" cy="208.3" r="3"/><circle cx="271.8" cy="214.9" r="3"/><circle cx="269.5" cy="221.9" r="3"/><circle cx="191.7" cy="228.9" r="3"/><circle cx="194.8" cy="232.8" r="3"/><circle cx="205.7" cy="225.8" r="3"/><circle cx="204.2" cy="231.6" r="3"/><circle cx="209.2" cy="235.9" r="3"/><circle cx="213.1" cy="235.9" r="3"/><circle cx="217" cy="230.8" r="3"/><circle cx="221.7" cy="232.8" r="3"/><circle cx="221.7" cy="237.4" r="3"/><circle cx="265.6" cy="237.8" r="3"/><circle cx="274.9" cy="237" r="3"/><circle cx="274.9" cy="240.2" r="3"/><circle cx="222.8" cy="247.2" r="3"/><circle cx="229.8" cy="246.8" r="3"/><circle cx="194.4" cy="252.2" r="3"/><circle cx="210.8" cy="252.2" r="3"/><circle cx="214.7" cy="253" r="3"/><circle cx="227.1" cy="253" r="3"/><circle cx="232.5" cy="251.8" r="3"/><circle cx="238.8" cy="256.5" r="3"/><circle cx="277.4" cy="454.8" r="3"/><circle cx="280.1" cy="457.4" r="3"/><circle cx="272.1" cy="459.2" r="3"/><circle cx="271.7" cy="462.8" r="3"/><circle cx="274.8" cy="461.9" r="3"/><circle cx="278.3" cy="461" r="3"/><circle cx="281.9" cy="462.8" r="3"/><circle cx="277" cy="466.3" r="3"/><circle cx="280.6" cy="467.2" r="3"/><circle cx="277.9" cy="471.7" r="3"/><circle cx="280.6" cy="475.2" r="3"/><circle cx="274.8" cy="483.2" r="3"/><circle cx="277.4" cy="480.6" r="3"/><circle cx="276.6" cy="486.8" r="3"/><circle cx="278.3" cy="490.3" r="3"/><circle cx="276.6" cy="494.8" r="3"/><circle cx="286.3" cy="455.2" r="3"/><circle cx="286.3" cy="459.2" r="3"/><circle cx="289.9" cy="461.9" r="3"/><circle cx="289.9" cy="466.3" r="3"/><circle cx="290.8" cy="470.8" r="3"/><circle cx="290.3" cy="481.4" r="3"/><circle cx="293.9" cy="488.1" r="3"/><circle cx="300.6" cy="482.8" r="3"/><circle cx="299.7" cy="469.9" r="3"/><circle cx="301.4" cy="475.2" r="3"/><circle cx="305.9" cy="463.7" r="3"/><circle cx="306.8" cy="469" r="3"/><circle cx="313" cy="463.2" r="3"/><circle cx="285.4" cy="492.1" r="3"/><circle cx="289.4" cy="494.3" r="3"/><circle cx="313.9" cy="495.7" r="3"/><circle cx="277" cy="505" r="3"/><circle cx="293" cy="510.3" r="3"/><circle cx="274.8" cy="513" r="3"/><circle cx="280.1" cy="514.8" r="3"/><circle cx="288.6" cy="518.3" r="3"/><circle cx="293.4" cy="517.9" r="3"/><circle cx="229.4" cy="457.4" r="3"/><circle cx="234.8" cy="456.6" r="3"/><circle cx="238.3" cy="461.9" r="3"/><circle cx="231.2" cy="461" r="3"/><circle cx="233.4" cy="468.6" r="3"/><circle cx="235" cy="460" r="3"/><circle cx="236.6" cy="458.3" r="3"/><circle cx="227.7" cy="484.1" r="3"/><circle cx="232.1" cy="481.4" r="3"/><circle cx="234.8" cy="484.1" r="3"/><circle cx="229.4" cy="486.8" r="3"/><circle cx="226.3" cy="493" r="3"/><circle cx="234.8" cy="500.1" r="3"/><circle cx="226.3" cy="502.8" r="3"/><circle cx="231.7" cy="505.9" r="3"/><circle cx="235.2" cy="508.1" r="3"/><circle cx="571.8" cy="209.2" r="3"/><circle cx="598.7" cy="210.1" r="3"/><circle cx="608.7" cy="212" r="3"/><circle cx="614.8" cy="212.9" r="3"/><circle cx="603.9" cy="216.2" r="3"/><circle cx="632.7" cy="212" r="3"/><circle cx="544.9" cy="224.3" r="3"/><circle cx="568.5" cy="227.1" r="3"/><circle cx="589.8" cy="227.1" r="3"/><circle cx="629.4" cy="221.9" r="3"/><circle cx="643.6" cy="228.1" r="3"/><circle cx="558.6" cy="232.3" r="3"/><circle cx="606.8" cy="230.9" r="3"/><circle cx="608.7" cy="233.2" r="3"/><circle cx="625.7" cy="232.8" r="3"/><circle cx="639.8" cy="231.8" r="3"/><circle cx="576.5" cy="241.3" r="3"/><circle cx="584.6" cy="240.3" r="3"/><circle cx="616.7" cy="240.3" r="3"/><circle cx="620" cy="238" r="3"/><circle cx="640.8" cy="240.8" r="3"/><circle cx="554.8" cy="246" r="3"/><circle cx="626.6" cy="247.9" r="3"/><circle cx="551.5" cy="255.9" r="3"/><circle cx="575.6" cy="255" r="3"/><circle cx="545.9" cy="262" r="3"/><circle cx="535.9" cy="264.9" r="3"/><circle cx="547.7" cy="267.2" r="3"/><circle cx="599.2" cy="262" r="3"/><circle cx="628.5" cy="261.1" r="3"/><circle cx="556.2" cy="271" r="3"/><circle cx="561" cy="270.1" r="3"/><circle cx="559.6" cy="273.8" r="3"/><circle cx="545.9" cy="273.8" r="3"/><circle cx="551.5" cy="277.6" r="3"/><circle cx="556.2" cy="277.6" r="3"/><circle cx="593.5" cy="272" r="3"/><circle cx="607.7" cy="270.5" r="3"/><circle cx="606.8" cy="275.7" r="3"/><circle cx="621.9" cy="275.7" r="3"/><circle cx="631.8" cy="272" r="3"/><circle cx="583.6" cy="278.1" r="3"/><circle cx="199.5" cy="288.5" r="3"/><circle cx="202.5" cy="296" r="3"/><circle cx="204.5" cy="304" r="3"/><circle cx="183.5" cy="309" r="3"/><circle cx="196.5" cy="312" r="3"/><circle cx="200.5" cy="312" r="3"/><circle cx="204" cy="312" r="3"/><circle cx="213.5" cy="317.5" r="3"/><circle cx="218" cy="320" r="3"/><circle cx="221.5" cy="325" r="3"/><circle cx="212.5" cy="325" r="3"/><circle cx="198" cy="331.5" r="3"/><circle cx="194.5" cy="334" r="3"/><circle cx="200" cy="334" r="3"/><circle cx="176.5" cy="346" r="3"/><circle cx="244.5" cy="288" r="3"/><circle cx="236.5" cy="311" r="3"/><circle cx="238.5" cy="319.5" r="3"/><circle cx="299" cy="292" r="3"/><circle cx="311" cy="292.5" r="3"/><circle cx="310.5" cy="295" r="3"/><circle cx="310" cy="329" r="3"/><circle cx="318" cy="329" r="3"/><circle cx="324.5" cy="343" r="3"/><circle cx="334.5" cy="208" r="3"/><circle cx="354.5" cy="206" r="3"/><circle cx="357.5" cy="219" r="3"/><circle cx="304" cy="225" r="3"/><circle cx="312.5" cy="227" r="3"/><circle cx="389.5" cy="210" r="3"/><circle cx="383.5" cy="217" r="3"/><circle cx="406.5" cy="218" r="3"/><circle cx="419" cy="207" r="3"/><circle cx="421.5" cy="216" r="3"/><circle cx="433.5" cy="212" r="3"/><circle cx="397.5" cy="225" r="3"/><circle cx="415.5" cy="225" r="3"/><circle cx="364.5" cy="230" r="3"/><circle cx="375.5" cy="231" r="3"/><circle cx="357.5" cy="237.5" r="3"/><circle cx="372" cy="255" r="3"/><circle cx="368.5" cy="259" r="3"/><circle cx="374.5" cy="258" r="3"/><circle cx="387.5" cy="258" r="3"/><circle cx="401.5" cy="253" r="3"/><circle cx="388.5" cy="273" r="3"/><circle cx="374.5" cy="276" r="3"/><circle cx="298" cy="277" r="3"/><circle cx="295.5" cy="272" r="3"/><circle cx="298.5" cy="283" r="3"/><circle cx="349.5" cy="284" r="3"/><circle cx="357.5" cy="283" r="3"/><circle cx="367.5" cy="282.5" r="3"/><circle cx="331" cy="290" r="3"/><circle cx="338" cy="289" r="3"/><circle cx="370.5" cy="296" r="3"/><circle cx="352.5" cy="299.5" r="3"/><circle cx="390.5" cy="295" r="3"/><circle cx="404.5" cy="294.5" r="3"/><circle cx="406" cy="294" r="3"/><circle cx="394.5" cy="312" r="3"/><circle cx="417.5" cy="311" r="3"/><circle cx="469.5" cy="283" r="3"/><circle cx="473.5" cy="295" r="3"/><circle cx="465.5" cy="308" r="3"/><circle cx="486.5" cy="302" r="3"/><circle cx="488.5" cy="313" r="3"/><circle cx="466.5" cy="324" r="3"/><circle cx="489" cy="293" r="3"/><circle cx="347.5" cy="327" r="3"/><circle cx="335.5" cy="330" r="3"/><circle cx="332" cy="333" r="3"/><circle cx="374.5" cy="340" r="3"/><circle cx="382.5" cy="344" r="3"/><circle cx="341.5" cy="347" r="3"/><circle cx="401.5" cy="352" r="3"/><circle cx="451.5" cy="330" r="3"/><circle cx="453.5" cy="339" r="3"/><circle cx="481.5" cy="338" r="3"/><circle cx="443.5" cy="357" r="3"/><circle cx="432.5" cy="363" r="3"/><circle cx="466.5" cy="362.5" r="3"/><circle cx="423.5" cy="369" r="3"/><circle cx="455.5" cy="369.5" r="3"/><circle cx="470.5" cy="369.5" r="3"/><circle cx="478.5" cy="369.5" r="3"/><circle cx="484.5" cy="369" r="3"/><circle cx="672" cy="223" r="3"/><circle cx="678.5" cy="225.5" r="3"/><circle cx="679.5" cy="230" r="3"/><circle cx="692.7" cy="237" r="3"/><circle cx="703.7" cy="238" r="3"/><circle cx="712.7" cy="236" r="3"/><circle cx="669.8" cy="244" r="3"/><circle cx="664.5" cy="247" r="3"/><circle cx="671.8" cy="251" r="3"/><circle cx="685.8" cy="248" r="3"/><circle cx="708.8" cy="253" r="3"/><circle cx="745.7" cy="215" r="3"/><circle cx="762.7" cy="213" r="3"/><circle cx="765.7" cy="218" r="3"/><circle cx="729.7" cy="240" r="3"/><circle cx="759.7" cy="244" r="3"/><circle cx="697.8" cy="260" r="3"/><circle cx="704.8" cy="259" r="3"/><circle cx="699.8" cy="264" r="3"/><circle cx="698.8" cy="267" r="3"/><circle cx="672.3" cy="267" r="3"/><circle cx="664.5" cy="263" r="3"/><circle cx="710.8" cy="270" r="3"/><circle cx="760.7" cy="261" r="3"/><circle cx="649.8" cy="227" r="3"/><circle cx="488.5" cy="279" r="3"/><circle cx="495" cy="277" r="3"/><circle cx="501.5" cy="276.5" r="3"/><circle cx="504.5" cy="276" r="3"/><circle cx="503" cy="279" r="3"/><circle cx="499" cy="282" r="3"/><circle cx="495" cy="284" r="3"/><circle cx="495" cy="288" r="3"/><circle cx="491.5" cy="293" r="3"/><circle cx="514" cy="285" r="3"/><circle cx="509" cy="295.5" r="3"/><circle cx="513" cy="296" r="3"/><circle cx="513.5" cy="299" r="3"/><circle cx="495.5" cy="299" r="3"/><circle cx="502.5" cy="300" r="3"/><circle cx="506.5" cy="303" r="3"/><circle cx="512" cy="306" r="3"/><circle cx="503" cy="305.5" r="3"/><circle cx="495" cy="308.5" r="3"/><circle cx="500" cy="310" r="3"/><circle cx="502.5" cy="311.5" r="3"/><circle cx="511.5" cy="313" r="3"/><circle cx="494.5" cy="317.5" r="3"/><circle cx="496.5" cy="323" r="3"/><circle cx="505.5" cy="323" r="3"/><circle cx="520.5" cy="299" r="3"/><circle cx="523" cy="306" r="3"/><circle cx="538.5" cy="282" r="3"/><circle cx="539.5" cy="290" r="3"/><circle cx="562.5" cy="289.5" r="3"/><circle cx="543.5" cy="299" r="3"/><circle cx="554.5" cy="299" r="3"/><circle cx="563.5" cy="305.5" r="3"/><circle cx="570.5" cy="302" r="3"/><circle cx="601.5" cy="283" r="3"/><circle cx="591.5" cy="288" r="3"/><circle cx="597.5" cy="289" r="3"/><circle cx="612.5" cy="286" r="3"/><circle cx="633.5" cy="284" r="3"/><circle cx="587.5" cy="297.5" r="3"/><circle cx="607.5" cy="297" r="3"/><circle cx="633.5" cy="298" r="3"/><circle cx="594.5" cy="304" r="3"/><circle cx="594.5" cy="307" r="3"/><circle cx="583.5" cy="310" r="3"/><circle cx="603.5" cy="308" r="3"/><circle cx="617.5" cy="303" r="3"/><circle cx="631.5" cy="304" r="3"/><circle cx="602.5" cy="318" r="3"/><circle cx="634.5" cy="322" r="3"/><circle cx="639.5" cy="325.5" r="3"/><circle cx="586" cy="324" r="3"/><circle cx="590.5" cy="323" r="3"/><circle cx="581.5" cy="327" r="3"/><circle cx="603.5" cy="325" r="3"/><circle cx="608.5" cy="327" r="3"/><circle cx="626.5" cy="328" r="3"/><circle cx="618.5" cy="332" r="3"/><circle cx="588.5" cy="333" r="3"/><circle cx="596.5" cy="331" r="3"/><circle cx="594.5" cy="335" r="3"/><circle cx="569.5" cy="339" r="3"/><circle cx="584" cy="343" r="3"/><circle cx="634.5" cy="341" r="3"/><circle cx="553.5" cy="311" r="3"/><circle cx="554" cy="315" r="3"/><circle cx="537.5" cy="322" r="3"/><circle cx="558.5" cy="323" r="3"/><circle cx="523.5" cy="324.5" r="3"/><circle cx="525.5" cy="331" r="3"/><circle cx="517.5" cy="334" r="3"/><circle cx="520.5" cy="338" r="3"/><circle cx="523.5" cy="343" r="3"/><circle cx="541.5" cy="346" r="3"/><circle cx="548.5" cy="346" r="3"/><circle cx="553.5" cy="331" r="3"/><circle cx="493.5" cy="338" r="3"/><circle cx="496.5" cy="350" r="3"/><circle cx="500" cy="350" r="3"/><circle cx="512.5" cy="350" r="3"/><circle cx="513.5" cy="355" r="3"/><circle cx="585.5" cy="353" r="3"/><circle cx="583.5" cy="356" r="3"/><circle cx="599.5" cy="355" r="3"/><circle cx="596.5" cy="359" r="3"/><circle cx="600" cy="362" r="3"/><circle cx="618.5" cy="351" r="3"/><circle cx="611.5" cy="355" r="3"/><circle cx="614.5" cy="358" r="3"/><circle cx="639" cy="352" r="3"/><circle cx="628.5" cy="364" r="3"/><circle cx="520" cy="363" r="3"/><circle cx="492.5" cy="364" r="3"/><circle cx="664.5" cy="279" r="3"/><circle cx="672.5" cy="284.5" r="3"/><circle cx="685.5" cy="278" r="3"/><circle cx="686.5" cy="282" r="3"/><circle cx="687.5" cy="287.5" r="3"/><circle cx="698" cy="276.5" r="3"/><circle cx="701" cy="278" r="3"/><circle cx="706.5" cy="282.5" r="3"/><circle cx="714.5" cy="286" r="3"/><circle cx="722.5" cy="278.5" r="3"/><circle cx="729.5" cy="278" r="3"/><circle cx="733.5" cy="278" r="3"/><circle cx="756.5" cy="283.5" r="3"/><circle cx="780.5" cy="278.5" r="3"/><circle cx="647.5" cy="294" r="3"/><circle cx="665.5" cy="295.5" r="3"/><circle cx="678.5" cy="297.5" r="3"/><circle cx="717" cy="294" r="3"/><circle cx="756.5" cy="295" r="3"/><circle cx="642.5" cy="304" r="3"/><circle cx="680.5" cy="307" r="3"/><circle cx="695.5" cy="306" r="3"/><circle cx="730.5" cy="301" r="3"/><circle cx="728.5" cy="307.5" r="3"/><circle cx="718.5" cy="309" r="3"/><circle cx="719.5" cy="313.5" r="3"/><circle cx="686.5" cy="312.5" r="3"/><circle cx="689" cy="311.5" r="3"/><circle cx="694.5" cy="315" r="3"/><circle cx="700" cy="315" r="3"/><circle cx="704.5" cy="318" r="3"/><circle cx="690" cy="316.5" r="3"/><circle cx="672.5" cy="316" r="3"/><circle cx="678.5" cy="323" r="3"/><circle cx="687.5" cy="322.5" r="3"/><circle cx="693.5" cy="322" r="3"/><circle cx="711.5" cy="321" r="3"/><circle cx="715.5" cy="325" r="3"/><circle cx="716" cy="328" r="3"/><circle cx="724.5" cy="324" r="3"/><circle cx="734.5" cy="322" r="3"/><circle cx="741.5" cy="317" r="3"/><circle cx="754.5" cy="320" r="3"/><circle cx="761.5" cy="324" r="3"/><circle cx="690.5" cy="331" r="3"/><circle cx="698.5" cy="330" r="3"/><circle cx="709" cy="328" r="3"/><circle cx="704.5" cy="333" r="3"/><circle cx="708" cy="334" r="3"/><circle cx="710" cy="335" r="3"/><circle cx="713" cy="337" r="3"/><circle cx="695.5" cy="336" r="3"/><circle cx="698" cy="339.5" r="3"/><circle cx="691.5" cy="343" r="3"/><circle cx="705" cy="341" r="3"/><circle cx="713" cy="344" r="3"/><circle cx="714" cy="346" r="3"/><circle cx="720" cy="332.5" r="3"/><circle cx="734.5" cy="331" r="3"/><circle cx="755" cy="331.5" r="3"/><circle cx="739.5" cy="339" r="3"/><circle cx="738.5" cy="344" r="3"/><circle cx="736.5" cy="350" r="3"/><circle cx="728.5" cy="350" r="3"/><circle cx="752.5" cy="348" r="3"/><circle cx="764.5" cy="339" r="3"/><circle cx="779.5" cy="342" r="3"/><circle cx="758.5" cy="356" r="3"/><circle cx="762.5" cy="355" r="3"/><circle cx="740.5" cy="359" r="3"/><circle cx="749.5" cy="360.5" r="3"/><circle cx="681" cy="338" r="3"/><circle cx="687" cy="350" r="3"/><circle cx="697.5" cy="355.5" r="3"/><circle cx="701.5" cy="360" r="3"/><circle cx="677.5" cy="356" r="3"/><circle cx="656.5" cy="361" r="3"/><circle cx="666" cy="362.5" r="3"/><circle cx="669" cy="362.5" r="3"/><circle cx="677.5" cy="362.5" r="3"/><circle cx="661.5" cy="347" r="3"/><circle cx="666.5" cy="349" r="3"/><circle cx="641" cy="352" r="3"/><circle cx="641.5" cy="325" r="3"/><circle cx="649.5" cy="326" r="3"/><circle cx="645.5" cy="335" r="3"/><circle cx="654.5" cy="335" r="3"/><circle cx="648.5" cy="342" r="3"/><circle cx="725.5" cy="364" r="3"/><circle cx="429.5" cy="374.5" r="3"/><circle cx="355.5" cy="389" r="3"/><circle cx="355" cy="392.5" r="3"/><circle cx="360" cy="394" r="3"/><circle cx="351.5" cy="397" r="3"/><circle cx="355.5" cy="404" r="3"/><circle cx="370.5" cy="402" r="3"/><circle cx="377" cy="400" r="3"/><circle cx="377.5" cy="407" r="3"/><circle cx="371" cy="413" r="3"/><circle cx="406.5" cy="402" r="3"/><circle cx="403.5" cy="406" r="3"/><circle cx="427.5" cy="402" r="3"/><circle cx="446.5" cy="403" r="3"/><circle cx="453" cy="403" r="3"/><circle cx="463.5" cy="385.5" r="3"/><circle cx="463.5" cy="389" r="3"/><circle cx="463.5" cy="397" r="3"/><circle cx="470" cy="403" r="3"/><circle cx="475" cy="403" r="3"/><circle cx="464.5" cy="414" r="3"/><circle cx="465.5" cy="426" r="3"/><circle cx="439.5" cy="427" r="3"/><circle cx="432.5" cy="436" r="3"/><circle cx="442.5" cy="438" r="3"/><circle cx="439.5" cy="452" r="3"/><circle cx="345.5" cy="465" r="3"/><circle cx="347.5" cy="469" r="3"/><circle cx="352.5" cy="465" r="3"/><circle cx="353.5" cy="469" r="3"/><circle cx="359.5" cy="461" r="3"/><circle cx="360" cy="466" r="3"/><circle cx="368.5" cy="460" r="3"/><circle cx="366.5" cy="467" r="3"/><circle cx="370" cy="467" r="3"/><circle cx="387.5" cy="464" r="3"/><circle cx="388" cy="467" r="3"/><circle cx="348.5" cy="478" r="3"/><circle cx="349.5" cy="483" r="3"/><circle cx="349.5" cy="489.5" r="3"/><circle cx="371.5" cy="493" r="3"/><circle cx="382.5" cy="492" r="3"/><circle cx="354" cy="498" r="3"/><circle cx="387" cy="518" r="3"/><circle cx="420.5" cy="475" r="3"/><circle cx="421" cy="485" r="3"/><circle cx="420" cy="492.5" r="3"/><circle cx="419" cy="519" r="3"/><circle cx="439.5" cy="497" r="3"/><circle cx="454.5" cy="497" r="3"/><circle cx="461.5" cy="498" r="3"/><circle cx="439.5" cy="472" r="3"/><circle cx="439.5" cy="475" r="3"/><circle cx="439.5" cy="479" r="3"/><circle cx="438.5" cy="465" r="3"/><circle cx="444.5" cy="462" r="3"/><circle cx="466.5" cy="457" r="3"/><circle cx="471" cy="496" r="3"/><circle cx="477.5" cy="496" r="3"/><circle cx="467" cy="502.5" r="3"/><circle cx="472" cy="503" r="3"/><circle cx="461.5" cy="520.5" r="3"/><circle cx="465" cy="520.5" r="3"/><circle cx="471.5" cy="521" r="3"/><circle cx="493" cy="366" r="3"/><circle cx="490.5" cy="375" r="3"/><circle cx="501.5" cy="370" r="3"/><circle cx="506" cy="370" r="3"/><circle cx="509.5" cy="371" r="3"/><circle cx="516" cy="370.5" r="3"/><circle cx="522" cy="369.5" r="3"/><circle cx="522" cy="373.5" r="3"/><circle cx="525.5" cy="379" r="3"/><circle cx="529" cy="379.5" r="3"/><circle cx="528.5" cy="370" r="3"/><circle cx="541.5" cy="370" r="3"/><circle cx="557" cy="369.5" r="3"/><circle cx="560" cy="370" r="3"/><circle cx="563.5" cy="375" r="3"/><circle cx="563.5" cy="377.5" r="3"/><circle cx="587.5" cy="371" r="3"/><circle cx="610.5" cy="368" r="3"/><circle cx="610" cy="373" r="3"/><circle cx="628.5" cy="366" r="3"/><circle cx="573.5" cy="383.5" r="3"/><circle cx="585" cy="384.5" r="3"/><circle cx="590.5" cy="386" r="3"/><circle cx="596.5" cy="385" r="3"/><circle cx="579.5" cy="389" r="3"/><circle cx="585.5" cy="389.5" r="3"/><circle cx="620.5" cy="387" r="3"/><circle cx="630.5" cy="384" r="3"/><circle cx="573.5" cy="394" r="3"/><circle cx="581.5" cy="399" r="3"/><circle cx="591.5" cy="399" r="3"/><circle cx="615.5" cy="397" r="3"/><circle cx="610.5" cy="403" r="3"/><circle cx="578.5" cy="404" r="3"/><circle cx="582" cy="406" r="3"/><circle cx="581.5" cy="413" r="3"/><circle cx="594.5" cy="412" r="3"/><circle cx="601" cy="412" r="3"/><circle cx="610.5" cy="414" r="3"/><circle cx="587.5" cy="416" r="3"/><circle cx="573" cy="419" r="3"/><circle cx="576" cy="420" r="3"/><circle cx="605.5" cy="420" r="3"/><circle cx="580.5" cy="426" r="3"/><circle cx="612.5" cy="424" r="3"/><circle cx="597.5" cy="427.5" r="3"/><circle cx="599.5" cy="432" r="3"/><circle cx="599" cy="434.5" r="3"/><circle cx="616" cy="434.5" r="3"/><circle cx="621" cy="436" r="3"/><circle cx="630.5" cy="394.5" r="3"/><circle cx="632" cy="395" r="3"/><circle cx="627" cy="402" r="3"/><circle cx="631" cy="424" r="3"/><circle cx="636.5" cy="428" r="3"/><circle cx="633.5" cy="439" r="3"/><circle cx="609" cy="440" r="3"/><circle cx="609.5" cy="443" r="3"/><circle cx="621" cy="448.5" r="3"/><circle cx="622" cy="452" r="3"/><circle cx="633" cy="453" r="3"/><circle cx="636.5" cy="448" r="3"/><circle cx="609" cy="451" r="3"/><circle cx="580" cy="448" r="3"/><circle cx="584" cy="451" r="3"/><circle cx="590" cy="450" r="3"/><circle cx="510.5" cy="390" r="3"/><circle cx="510.5" cy="394" r="3"/><circle cx="510.5" cy="397" r="3"/><circle cx="520" cy="399" r="3"/><circle cx="537.5" cy="400" r="3"/><circle cx="555.5" cy="402" r="3"/><circle cx="555.5" cy="411" r="3"/><circle cx="509.5" cy="410" r="3"/><circle cx="490.5" cy="403" r="3"/><circle cx="551.5" cy="423" r="3"/><circle cx="544.5" cy="429" r="3"/><circle cx="498.5" cy="424" r="3"/><circle cx="498.5" cy="431" r="3"/><circle cx="508.5" cy="429" r="3"/><circle cx="510.5" cy="435" r="3"/><circle cx="553.5" cy="447" r="3"/><circle cx="687.8" cy="367" r="3"/><circle cx="687.8" cy="370" r="3"/><circle cx="644" cy="372" r="3"/><circle cx="659.5" cy="374" r="3"/><circle cx="680" cy="371" r="3"/><circle cx="673.5" cy="379" r="3"/><circle cx="680.5" cy="378" r="3"/><circle cx="648.5" cy="383" r="3"/><circle cx="692.5" cy="378" r="3"/><circle cx="704.5" cy="380" r="3"/><circle cx="710" cy="382" r="3"/><circle cx="699.5" cy="386" r="3"/><circle cx="725.5" cy="366" r="3"/><circle cx="726.5" cy="371" r="3"/><circle cx="726.5" cy="377" r="3"/><circle cx="725.5" cy="384" r="3"/><circle cx="736.5" cy="370" r="3"/><circle cx="764.5" cy="369" r="3"/><circle cx="758.5" cy="377" r="3"/><circle cx="777.5" cy="379" r="3"/><circle cx="706.5" cy="392" r="3"/><circle cx="712" cy="394" r="3"/><circle cx="716" cy="391.5" r="3"/><circle cx="715.5" cy="396" r="3"/><circle cx="737.5" cy="395" r="3"/><circle cx="726.5" cy="399" r="3"/><circle cx="747.5" cy="388" r="3"/><circle cx="748.5" cy="391.5" r="3"/><circle cx="755.5" cy="392" r="3"/><circle cx="754" cy="395.5" r="3"/><circle cx="689.5" cy="393" r="3"/><circle cx="689" cy="397" r="3"/><circle cx="659.5" cy="398" r="3"/><circle cx="664.5" cy="396" r="3"/><circle cx="680" cy="396" r="3"/><circle cx="682" cy="396" r="3"/><circle cx="642" cy="401" r="3"/><circle cx="646.5" cy="409" r="3"/><circle cx="657.5" cy="410" r="3"/><circle cx="676.5" cy="407" r="3"/><circle cx="700.5" cy="403" r="3"/><circle cx="714.5" cy="407" r="3"/><circle cx="748.5" cy="406" r="3"/><circle cx="744.5" cy="410" r="3"/><circle cx="757.5" cy="414" r="3"/><circle cx="642" cy="419" r="3"/><circle cx="656.5" cy="421" r="3"/><circle cx="659.5" cy="418" r="3"/><circle cx="666.5" cy="419" r="3"/><circle cx="674.5" cy="425" r="3"/><circle cx="665.5" cy="430" r="3"/><circle cx="647.5" cy="433" r="3"/><circle cx="684" cy="417" r="3"/><circle cx="690" cy="417" r="3"/><circle cx="694.5" cy="420" r="3"/><circle cx="700" cy="418" r="3"/><circle cx="702" cy="416.5" r="3"/><circle cx="711.5" cy="420.5" r="3"/><circle cx="712.5" cy="424" r="3"/><circle cx="718.5" cy="422" r="3"/><circle cx="723.5" cy="419" r="3"/><circle cx="730.5" cy="417" r="3"/><circle cx="702" cy="428" r="3"/><circle cx="705" cy="426" r="3"/><circle cx="742.5" cy="427" r="3"/><circle cx="712.5" cy="435" r="3"/><circle cx="709.5" cy="440" r="3"/><circle cx="703.5" cy="441" r="3"/><circle cx="725.5" cy="445" r="3"/><circle cx="702.5" cy="451.5" r="3"/><circle cx="783.5" cy="439" r="3"/><circle cx="795.5" cy="451" r="3"/><circle cx="651.5" cy="445" r="3"/><circle cx="650" cy="451" r="3"/><circle cx="654.5" cy="451" r="3"/><circle cx="664.5" cy="449" r="3"/><circle cx="671" cy="446" r="3"/><circle cx="674" cy="446" r="3"/><circle cx="685.5" cy="446" r="3"/><circle cx="689" cy="446" r="3"/><circle cx="539" cy="456.5" r="3"/><circle cx="539.5" cy="461" r="3"/><circle cx="559.5" cy="457" r="3"/><circle cx="505.8" cy="461" r="3"/><circle cx="505.8" cy="468" r="3"/><circle cx="522.8" cy="467" r="3"/><circle cx="507.8" cy="478" r="3"/><circle cx="527.8" cy="490" r="3"/><circle cx="531.8" cy="490" r="3"/><circle cx="506.8" cy="494" r="3"/><circle cx="488.8" cy="496" r="3"/><circle cx="491.8" cy="504" r="3"/><circle cx="492.8" cy="510" r="3"/><circle cx="546.8" cy="467" r="3"/><circle cx="561.8" cy="467" r="3"/><circle cx="553.8" cy="479" r="3"/><circle cx="551.8" cy="486" r="3"/><circle cx="549.8" cy="489" r="3"/><circle cx="573.8" cy="486" r="3"/><circle cx="574.8" cy="489" r="3"/><circle cx="599.8" cy="472" r="3"/><circle cx="606.8" cy="460" r="3"/><circle cx="606.8" cy="467" r="3"/><circle cx="628.8" cy="462" r="3"/><circle cx="625.8" cy="464" r="3"/><circle cx="617.8" cy="479" r="3"/><circle cx="625.8" cy="482" r="3"/><circle cx="613.8" cy="488" r="3"/><circle cx="607.8" cy="493" r="3"/><circle cx="639" cy="488" r="3"/><circle cx="537.8" cy="497" r="3"/><circle cx="548.8" cy="501" r="3"/><circle cx="560.8" cy="501" r="3"/><circle cx="574.8" cy="507" r="3"/><circle cx="574.8" cy="514" r="3"/><circle cx="549.8" cy="520" r="3"/><circle cx="570.8" cy="522" r="3"/><circle cx="581.8" cy="522" r="3"/><circle cx="624.8" cy="499" r="3"/><circle cx="638.5" cy="502" r="3"/><circle cx="638.5" cy="505" r="3"/><circle cx="646.5" cy="462" r="3"/><circle cx="652" cy="460" r="3"/><circle cx="694" cy="461" r="3"/><circle cx="672.5" cy="471" r="3"/><circle cx="680" cy="470" r="3"/><circle cx="703.5" cy="468" r="3"/><circle cx="719.5" cy="461" r="3"/><circle cx="731.5" cy="460.5" r="3"/><circle cx="734.5" cy="466" r="3"/><circle cx="726.5" cy="470" r="3"/><circle cx="642" cy="476" r="3"/><circle cx="641.5" cy="479" r="3"/><circle cx="747.5" cy="480" r="3"/><circle cx="757.5" cy="480" r="3"/><circle cx="767.5" cy="477" r="3"/><circle cx="790.5" cy="485" r="3"/><circle cx="799.5" cy="472" r="3"/><circle cx="697.5" cy="486" r="3"/><circle cx="689.5" cy="489" r="3"/><circle cx="721.5" cy="479.5" r="3"/><circle cx="719.5" cy="484" r="3"/><circle cx="727.5" cy="484" r="3"/><circle cx="713.5" cy="490" r="3"/><circle cx="719.5" cy="490" r="3"/><circle cx="724.5" cy="490" r="3"/><circle cx="730.5" cy="490" r="3"/><circle cx="652" cy="495" r="3"/><circle cx="669.5" cy="496" r="3"/><circle cx="664" cy="501" r="3"/><circle cx="684.5" cy="497" r="3"/><circle cx="693.5" cy="495" r="3"/><circle cx="701.5" cy="496" r="3"/><circle cx="707.5" cy="501" r="3"/><circle cx="688.5" cy="505" r="3"/><circle cx="697.5" cy="509" r="3"/><circle cx="641" cy="502" r="3"/><circle cx="640.5" cy="505" r="3"/><circle cx="717.5" cy="498" r="3"/><circle cx="720" cy="501" r="3"/><circle cx="725.5" cy="500.5" r="3"/><circle cx="729" cy="499" r="3"/><circle cx="715.5" cy="506" r="3"/><circle cx="716" cy="510" r="3"/><circle cx="728" cy="505" r="3"/><circle cx="728.5" cy="508.5" r="3"/><circle cx="743.5" cy="492" r="3"/><circle cx="743.5" cy="498" r="3"/><circle cx="758.5" cy="494" r="3"/><circle cx="764" cy="490.5" r="3"/><circle cx="770" cy="493" r="3"/><circle cx="771.5" cy="498" r="3"/><circle cx="754.5" cy="501" r="3"/><circle cx="748.5" cy="505" r="3"/><circle cx="741" cy="508" r="3"/><circle cx="744.5" cy="508.5" r="3"/><circle cx="772.5" cy="504.5" r="3"/><circle cx="755.5" cy="509" r="3"/><circle cx="773.5" cy="511" r="3"/><circle cx="653.5" cy="509.5" r="3"/><circle cx="658.5" cy="509.5" r="3"/><circle cx="663.5" cy="513" r="3"/><circle cx="674.5" cy="512" r="3"/><circle cx="676.5" cy="518" r="3"/><circle cx="655.5" cy="520" r="3"/><circle cx="650.5" cy="525" r="3"/><circle cx="659" cy="524" r="3"/><circle cx="702" cy="524" r="3"/><circle cx="705.5" cy="521" r="3"/><circle cx="712.5" cy="515" r="3"/><circle cx="721" cy="515.5" r="3"/><circle cx="716.5" cy="519.5" r="3"/><circle cx="722.5" cy="519" r="3"/><circle cx="729.5" cy="517" r="3"/><circle cx="750.5" cy="519" r="3"/><circle cx="758.5" cy="517" r="3"/><circle cx="763.5" cy="515" r="3"/><circle cx="744.5" cy="526" r="3"/><circle cx="758.5" cy="526" r="3"/><circle cx="764.5" cy="525" r="3"/><circle cx="766.5" cy="529" r="3"/><circle cx="753.5" cy="530" r="3"/><circle cx="738.5" cy="531" r="3"/><circle cx="774.5" cy="525" r="3"/><circle cx="783" cy="520" r="3"/><circle cx="789.5" cy="524" r="3"/><circle cx="716.5" cy="535" r="3"/><circle cx="714" cy="541.5" r="3"/><circle cx="707.5" cy="550" r="3"/><circle cx="703.5" cy="556" r="3"/><circle cx="702.5" cy="564" r="3"/><circle cx="702.5" cy="577" r="3"/><circle cx="716.5" cy="574" r="3"/><circle cx="720.5" cy="575" r="3"/><circle cx="727.5" cy="580" r="3"/><circle cx="737.5" cy="586" r="3"/><circle cx="737.5" cy="550" r="3"/><circle cx="738.5" cy="564" r="3"/><circle cx="749.5" cy="578.5" r="3"/><circle cx="761.5" cy="548" r="3"/><circle cx="769.5" cy="553" r="3"/><circle cx="773" cy="553" r="3"/><circle cx="755.5" cy="565" r="3"/><circle cx="796.5" cy="550" r="3"/><circle cx="793.5" cy="561" r="3"/><circle cx="786.5" cy="574" r="3"/><circle cx="789.5" cy="581.5" r="3"/><circle cx="754.5" cy="587" r="3"/><circle cx="774" cy="586" r="3"/><circle cx="777" cy="585" r="3"/><circle cx="787.5" cy="591" r="3"/><circle cx="785.5" cy="602" r="3"/><circle cx="771.5" cy="606" r="3"/><circle cx="798.5" cy="609" r="3"/><circle cx="785.5" cy="620" r="3"/><circle cx="790.5" cy="622" r="3"/><circle cx="883.5" cy="535" r="3"/><circle cx="884" cy="539" r="3"/><circle cx="901.5" cy="531.5" r="3"/><circle cx="909.5" cy="531.5" r="3"/><circle cx="905.5" cy="541" r="3"/><circle cx="916.5" cy="543" r="3"/><circle cx="916.5" cy="551" r="3"/><circle cx="923.5" cy="554" r="3"/><circle cx="973.5" cy="531.5" r="3"/><circle cx="963.5" cy="548" r="3"/><circle cx="966.5" cy="559" r="3"/><circle cx="952" cy="561.5" r="3"/><circle cx="957" cy="566" r="3"/><circle cx="958" cy="570" r="3"/><circle cx="959" cy="575.5" r="3"/><circle cx="954" cy="572" r="3"/><circle cx="950" cy="568" r="3"/><circle cx="945" cy="574" r="3"/><circle cx="941" cy="579" r="3"/><circle cx="885.5" cy="574" r="3"/><circle cx="897.5" cy="575.5" r="3"/><circle cx="907.5" cy="576" r="3"/><circle cx="904.5" cy="581" r="3"/><circle cx="910.5" cy="581" r="3"/><circle cx="917" cy="581" r="3"/><circle cx="922" cy="584" r="3"/><circle cx="928.5" cy="585" r="3"/><circle cx="935.5" cy="584.5" r="3"/><circle cx="938" cy="587" r="3"/><circle cx="939" cy="589" r="3"/><circle cx="943.5" cy="590" r="3"/><circle cx="900.5" cy="587" r="3"/><circle cx="901.5" cy="597" r="3"/><circle cx="903" cy="602" r="3"/><circle cx="900" cy="601" r="3"/><circle cx="896.5" cy="606" r="3"/><circle cx="904" cy="608" r="3"/><circle cx="894" cy="612" r="3"/><circle cx="895" cy="615" r="3"/><circle cx="900.5" cy="614.5" r="3"/><circle cx="917.5" cy="610" r="3"/><circle cx="917" cy="614" r="3"/><circle cx="919.5" cy="599" r="3"/><circle cx="881" cy="618.5" r="3"/><circle cx="893.5" cy="626" r="3"/><circle cx="892.5" cy="634" r="3"/><circle cx="901.5" cy="625" r="3"/><circle cx="903.5" cy="628" r="3"/><circle cx="909" cy="633" r="3"/><circle cx="914" cy="627" r="3"/><circle cx="914.5" cy="630" r="3"/><circle cx="882" cy="647" r="3"/><circle cx="890.5" cy="660" r="3"/><circle cx="898.5" cy="670.5" r="3"/><circle cx="899.5" cy="673" r="3"/><circle cx="895" cy="682" r="3"/><circle cx="901" cy="682" r="3"/><circle cx="904" cy="680" r="3"/><circle cx="909.5" cy="685" r="3"/><circle cx="912" cy="685.5" r="3"/><circle cx="915" cy="678" r="3"/><circle cx="919.5" cy="664.5" r="3"/><circle cx="917.5" cy="694.5" r="3"/><circle cx="933.5" cy="671.5" r="3"/><circle cx="933" cy="676" r="3"/><circle cx="936" cy="673" r="3"/><circle cx="943" cy="672.5" r="3"/><circle cx="959.5" cy="679" r="3"/><circle cx="975.5" cy="677" r="3"/><circle cx="969.3" cy="717" r="3"/><circle cx="974" cy="717.8" r="3"/><circle cx="981" cy="727.9" r="3"/><circle cx="968.6" cy="762.9" r="3"/><circle cx="201.6" cy="261.4" r="3"/><circle cx="260" cy="261.6" r="3"/><circle cx="263" cy="261" r="3"/><circle cx="184" cy="272.4" r="3"/><circle cx="228.6" cy="267" r="3"/><circle cx="224.4" cy="272" r="3"/><circle cx="254.6" cy="273" r="3"/><circle cx="214" cy="278" r="3"/><circle cx="218" cy="278" r="3"/><circle cx="215" cy="283" r="3"/><circle cx="226.6" cy="278" r="3"/><circle cx="281" cy="271" r="3"/><circle cx="286" cy="269" r="3"/><circle cx="290" cy="268" r="3"/><circle cx="291" cy="275" r="3"/><circle cx="458" cy="269" r="3"/><circle cx="461" cy="269" r="3"/><circle cx="473.6" cy="265" r="3"/><circle cx="471.6" cy="271.4" r="3"/><circle cx="517.6" cy="267" r="3"/><circle cx="704.6" cy="329" r="3"/><circle cx="174" cy="405.6" r="3"/><circle cx="168.6" cy="454" r="3"/><circle cx="285.6" cy="385" r="3"/><circle cx="276.6" cy="391" r="3"/><circle cx="284.6" cy="394" r="3"/><circle cx="303.6" cy="387" r="3"/><circle cx="313.6" cy="383" r="3"/><circle cx="282.6" cy="409" r="3"/><circle cx="201" cy="453" r="3"/><circle cx="200.6" cy="458" r="3"/><circle cx="200" cy="467" r="3"/><circle cx="199" cy="468" r="3"/><circle cx="218" cy="502" r="3"/><circle cx="224" cy="499" r="3"/><circle cx="222" cy="504" r="3"/><circle cx="820.6" cy="440" r="3"/><circle cx="817.6" cy="483" r="3"/><circle cx="835.6" cy="503" r="3"/><circle cx="808" cy="511" r="3"/><circle cx="815.6" cy="508" r="3"/><circle cx="828.6" cy="516.6" r="3"/><circle cx="813.6" cy="523" r="3"/><circle cx="889.6" cy="516" r="3"/><circle cx="904.6" cy="515" r="3"/><circle cx="973.6" cy="526" r="3"/><circle cx="823.6" cy="552" r="3"/><circle cx="808.6" cy="566" r="3"/><circle cx="829.6" cy="573" r="3"/><circle cx="873.6" cy="571" r="3"/><circle cx="875.6" cy="586" r="3"/><circle cx="876.6" cy="687" r="3"/><circle cx="927.6" cy="727" r="3"/><circle cx="953.6" cy="723" r="3"/><circle cx="879.6" cy="739" r="3"/><circle cx="944.6" cy="753" r="3"/></g>
<g fill="#a0a0a0" stroke="#000" stroke-width="0.8"><rect x="315.2" y="342.8" width="7.5" height="7.5"/><rect x="354.2" y="238.8" width="7.5" height="7.5"/><rect x="618.2" y="403.2" width="7.5" height="7.5"/><rect x="574.8" y="434.2" width="7.5" height="7.5"/><rect x="689.2" y="469.8" width="7.5" height="7.5"/></g>
<g fill="#f0e000" stroke="#000" stroke-width="0.8"><rect x="583" y="433" width="11" height="11"/><rect x="594" y="440.5" width="11" height="11"/></g>
<g fill="#3a9a1a" stroke="#000" stroke-width="0.5"><path d="M618.5,357.5 l5,9 h-10z"/><path d="M622.5,413 l5,9 h-10z"/><path d="M627.5,424 l5,9 h-10z"/></g>
<circle cx="358.7" cy="633.3" r="3" fill="#000"/>
<rect x="355.5" y="657.5" width="8" height="8" fill="#a0a0a0" stroke="#000" stroke-width="0.8"/>
<path d="M359.8,691 L366.2,701.5 H353.3Z" fill="#3a9a1a" stroke="#000" stroke-width="0.6"/>
<circle cx="497.5" cy="633.3" r="6.6" fill="#0a5ae6"/>
<rect x="491.2" y="654.6" width="13" height="13" fill="#f0e600" stroke="#000" stroke-width="0.8"/>
<path d="M497.7,684.2 L508,701.5 H487.5Z" fill="#f00000" stroke="#000" stroke-width="0.6"/>
</svg>
</body></html>
